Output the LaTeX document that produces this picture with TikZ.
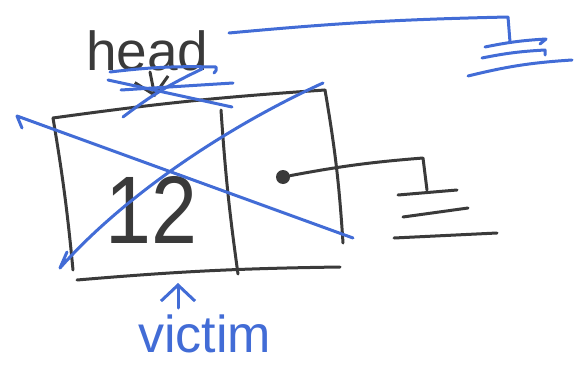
\documentclass[tikz,border=0pt]{standalone}
\usepackage{fontspec}
\setmainfont{Liberation Sans}
\usetikzlibrary{arrows.meta}
\definecolor{pen}{RGB}{58,58,58}
\definecolor{bpen}{RGB}{66,108,214}
\tikzset{
  blk/.style={draw=pen, line width=3pt, line cap=round, line join=round},
  blu/.style={draw=bpen, line width=3pt, line cap=round, line join=round},
  ptr/.style={-{Straight Barb[length=16pt,width=34pt,line width=3pt]}},
  lbl/.style={inner sep=0pt, anchor=base west},
}
\begin{document}
\begin{tikzpicture}[x=1pt,y=-1pt]
\useasboundingbox (0,0) rectangle (575,364);
% text nodes
\node[lbl, text=pen, font=\fontsize{55}{60}\selectfont] (head) at (86,70) {head};
\node[lbl, text=pen, font=\fontsize{96}{100}\selectfont] (twelve) at (105,243) {\scalebox{0.86}[1]{12}};
\node[lbl, text=bpen, font=\fontsize{52}{56}\selectfont] (victim) at (138,352) {victim};
% box corners and points
\coordinate (tl) at (53,118);
\coordinate (tr) at (325,90);
\coordinate (lb) at (73,270);
\coordinate (rb) at (343,243);
\coordinate (mt) at (221,110);
\coordinate (mb) at (238,274);
\coordinate (bl) at (77,280);
\coordinate (br) at (340,267);
% box
\draw[blk] (tl) to[bend left=2] (tr);
\draw[blk] (tl) to[bend left=2] (lb);
\draw[blk] (mt) to[bend right=2] (mb);
\draw[blk] (tr) to[bend left=3] (rb);
\draw[blk] (bl) to[bend left=2] (br);
% next pointer with ground
\node[circle, fill=pen, minimum size=14pt, inner sep=0pt] (dot) at (283,177) {};
\coordinate (nc) at (423,158);
\coordinate (ng) at (427,190);
\draw[blk] (dot) to[bend left=3] (nc) -- (ng);
\coordinate (g1a) at (398,195); \coordinate (g1b) at (457,190);
\coordinate (g2a) at (403,217); \coordinate (g2b) at (468,208);
\coordinate (g3a) at (394,238); \coordinate (g3b) at (497,233);
\draw[blk] (g1a) -- (g1b);
\draw[blk] (g2a) -- (g2b);
\draw[blk] (g3a) -- (g3b);
% head pointer (black)
\coordinate (hs) at (150,72);
\coordinate (ht) at (155,97);
\draw[blk, ptr] (hs) -- (ht);
% blue crossing-out of head pointer
\draw[blu] (110,72) to[bend left=4] (216,67) to[bend left=40] (214,73);
\draw[blu] (108,80) -- (232,107);
\draw[blu] (121,90) -- (233,83);
\draw[blu] (123,117) to[bend left=6] (202,69);
% new head pointer to ground (blue)
\coordinate (hn) at (229,33);
\coordinate (hc) at (508,17);
\coordinate (hg) at (510,42);
\draw[blu] (hn) to[bend left=2] (hc) -- (hg);
\draw[blu] (485,47) to[bend left=4] (546,39) -- (540,44);
\draw[blu] (482,58) to[bend left=4] (545,50) -- (545,55);
\draw[blu] (468,76) to[bend left=5] (572,60);
% blue X over the node
\coordinate (x1a) at (17,116);
\coordinate (x1b) at (353,238);
\draw[blu] (22,128) -- (x1a) -- (x1b);
\coordinate (x2a) at (60,268);
\coordinate (x2b) at (323,83);
\draw[blu] (67,252) -- (x2a) .. controls (120,200) and (220,130) .. (x2b);
% victim arrow
\coordinate (vs) at (178,308);
\coordinate (vt) at (178,283);
\draw[blu, ptr] (vs) -- (vt);
\end{tikzpicture}
\end{document}
